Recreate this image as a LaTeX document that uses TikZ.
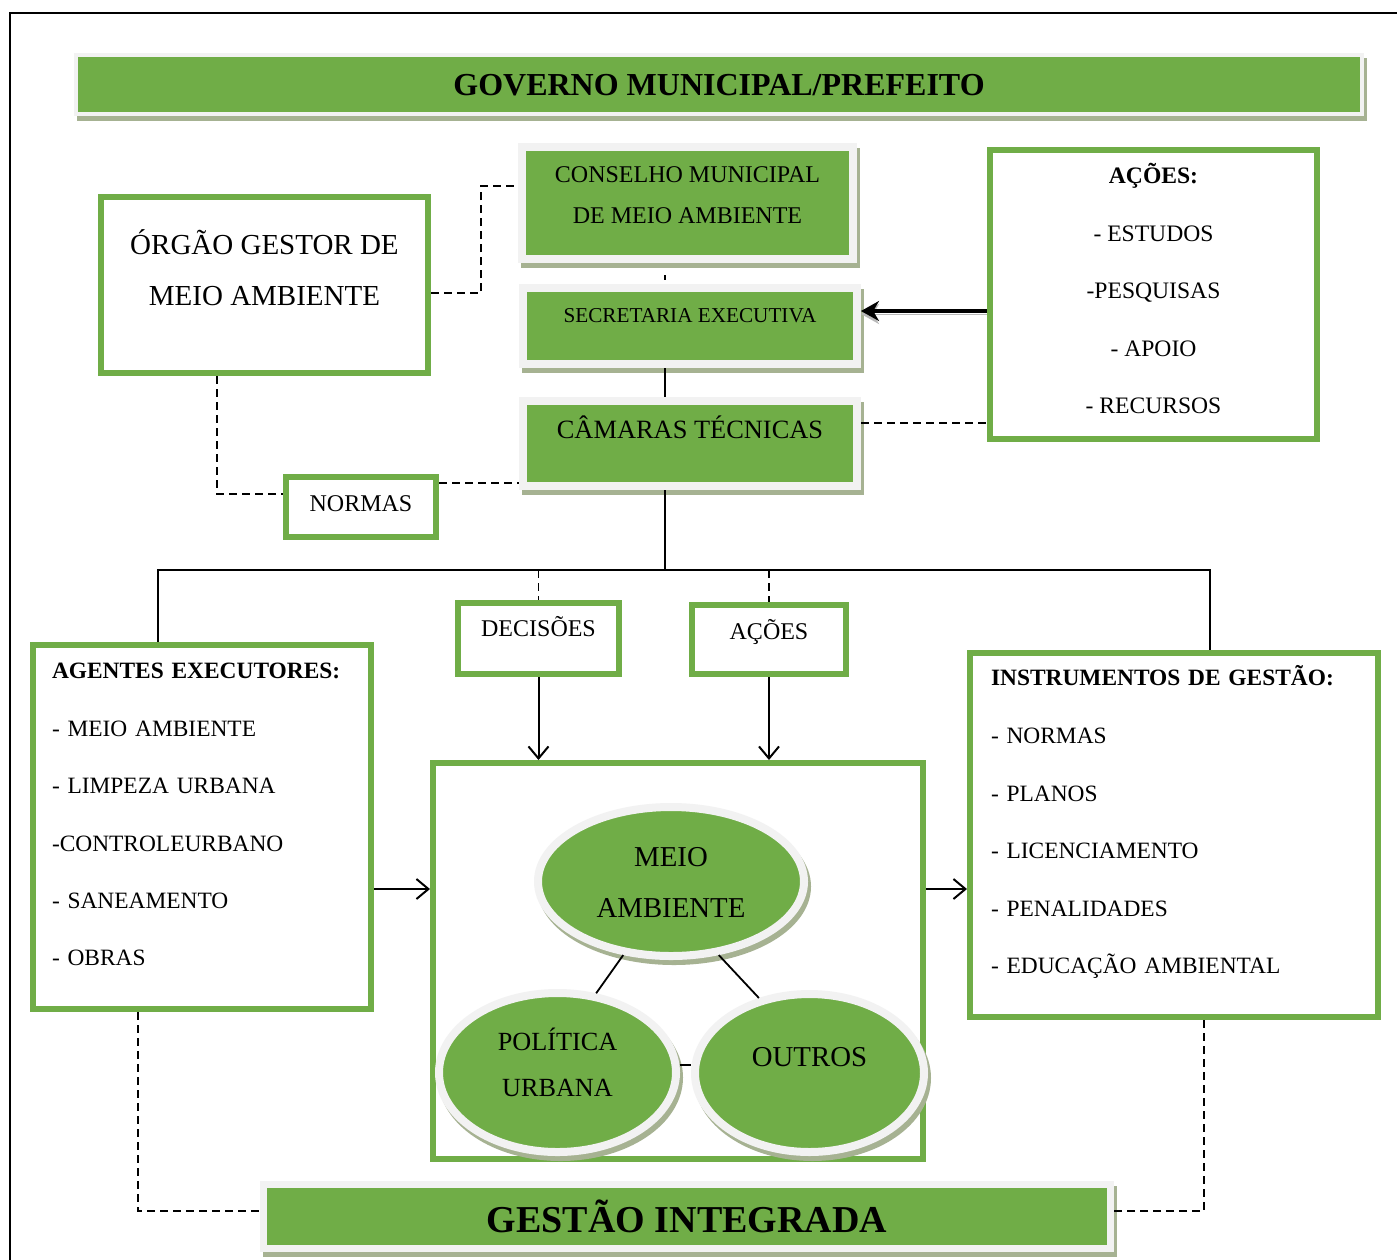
\documentclass[tikz,border=0pt]{standalone}
\usepackage{fontspec}
\setmainfont{Liberation Serif}
\usetikzlibrary{arrows.meta, shapes.geometric}

\definecolor{leafgreen}{RGB}{112,173,71}
\definecolor{framegrey}{RGB}{242,242,242}
\definecolor{shadowgrey}{RGB}{166,178,146}

\begin{document}
\begin{tikzpicture}[x=0.5pt, y=-0.5pt,
    shadowed/.style={preaction={draw=shadowgrey, fill=shadowgrey, transform canvas={xshift=1.5pt, yshift=-2.5pt}}},
    greenbox/.style={rectangle, shadowed, draw=framegrey, fill=leafgreen, line width=4pt, inner sep=0pt},
    greenoval/.style={ellipse, shadowed, draw=framegrey, fill=leafgreen, line width=4pt, inner sep=0pt},
    whitebox/.style={rectangle, draw=leafgreen, fill=white, line width=3pt, inner sep=0pt},
    link/.style={line width=0.9pt},
    dashlink/.style={line width=0.9pt, dash pattern=on 4pt off 2.5pt},
    arrow/.style={-{Straight Barb[length=6pt, width=10pt]}, line width=1pt}
]
    \useasboundingbox (0,0) rectangle (1397,1259);

    % Outer frame
    \draw[line width=1pt] (10,1270) -- (10,13) -- (1410,13);

    % Title
    \node[greenbox, line width=2pt, minimum width=643pt, minimum height=29.5pt,
          font=\fontsize{16}{19}\selectfont\bfseries, text height=11.1pt, text depth=0pt]
          (gov) at (719,84.5) {GOVERNO MUNICIPAL/PREFEITO};

    % Central column
    \node[greenbox, minimum width=165.5pt, minimum height=56pt, align=center,
          font=\fontsize{12}{20.5}\selectfont, text height=20.9pt, text depth=0pt]
          (conselho) at (687.5,203) {CONSELHO MUNICIPAL\\DE MEIO AMBIENTE};
    \node[greenbox, minimum width=167pt, minimum height=38pt,
          font=\fontsize{10.6}{13}\selectfont, text height=7pt, text depth=11pt]
          (secretaria) at (690,326) {SECRETARIA EXECUTIVA};
    \node[greenbox, minimum width=167pt, minimum height=42.5pt,
          font=\fontsize{13.2}{16}\selectfont, text height=8.7pt, text depth=13.5pt]
          (camaras) at (690,443.5) {CÂMARAS TÉCNICAS};

    % Left and right of the column
    \node[whitebox, minimum width=163.5pt, minimum height=88pt, align=center,
          font=\fontsize{14.5}{25.5}\selectfont, text height=20.6pt, text depth=0pt]
          (orgao) at (264.5,285) {ÓRGÃO GESTOR DE\\MEIO AMBIENTE};
    \node[whitebox, minimum width=75pt, minimum height=30pt,
          font=\fontsize{12}{14}\selectfont, text height=7.9pt, text depth=3pt]
          (normas) at (361,507) {NORMAS};
    \node[whitebox, minimum width=163.5pt, minimum height=144.5pt, align=center,
          font=\fontsize{11.8}{28.75}\selectfont, text height=119.3pt, text depth=0pt]
          (acoesTop) at (1153.5,294.5) {\textbf{AÇÕES:}\\- ESTUDOS\\-PESQUISAS\\- APOIO\\- RECURSOS};

    % Middle row
    \node[whitebox, minimum width=80.5pt, minimum height=35.5pt,
          font=\fontsize{12}{14}\selectfont, text height=7.9pt, text depth=9.5pt]
          (decisoes) at (538.5,638.5) {DECISÕES};
    \node[whitebox, minimum width=77pt, minimum height=34.5pt,
          font=\fontsize{12}{14}\selectfont, text height=7.9pt, text depth=7.5pt]
          (acoesMid) at (769,639.5) {AÇÕES};
    \node[whitebox, minimum width=169pt, minimum height=182pt, text width=150pt, align=left,
          font=\fontsize{11.7}{28.7}\selectfont, text height=7.8pt, text depth=156pt]
          (agentes) at (202,827) {\textbf{AGENTES EXECUTORES:}\\- MEIO AMBIENTE\\- LIMPEZA URBANA\\-CONTROLEURBANO\\- SANEAMENTO\\- OBRAS};
    \node[whitebox, minimum width=204pt, minimum height=182pt, text width=183pt, align=left,
          font=\fontsize{11.7}{28.8}\selectfont, text height=7.8pt, text depth=157pt]
          (instrumentos) at (1174,835) {\textbf{INSTRUMENTOS DE GESTÃO:}\\- NORMAS\\- PLANOS\\- LICENCIAMENTO\\- PENALIDADES\\- EDUCAÇÃO AMBIENTAL};

    % Central box with ovals
    \node[whitebox, minimum width=245pt, minimum height=198pt] (central) at (678,961) {};
    \node[greenoval, minimum width=133pt, minimum height=74.5pt, align=center,
          font=\fontsize{14.4}{25.5}\selectfont, text height=36pt, text depth=0pt]
          (meio) at (671,881.5) {MEIO\\AMBIENTE};
    \node[greenoval, minimum width=118.5pt, minimum height=79.5pt, align=center,
          font=\fontsize{13.1}{23}\selectfont, text height=24.1pt, text depth=0pt]
          (politica) at (557.5,1072.5) {POLÍTICA\\URBANA};
    \node[greenoval, minimum width=114.5pt, minimum height=79pt,
          font=\fontsize{14.4}{17}\selectfont, text height=9.5pt, text depth=16pt]
          (outros) at (809.5,1073) {OUTROS};

    % Bottom
    \node[greenbox, line width=3.5pt, minimum width=423.5pt, minimum height=32pt,
          font=\fontsize{19}{23}\selectfont\bfseries, text height=16.1pt, text depth=0pt]
          (gestao) at (687,1216.5) {GESTÃO INTEGRADA};

    % Solid links
    \coordinate (bus) at (665,570);
    \coordinate (busL) at (158,570);
    \coordinate (busR) at (1210,570);
    \draw[link, shorten <=6pt, shorten >=2pt] (conselho.south -| bus) -- (secretaria.north -| bus);
    \draw[link] (secretaria.south -| bus) -- (camaras.north -| bus);
    \draw[link] (camaras.south -| bus) -- (bus);
    \draw[link] (agentes.north -| busL) -- (busL) -- (busR) -- (instrumentos.north -| busR);
    \draw[link] (meio.-123) -- (politica.64);
    \draw[link] (meio.-57) -- (outros.124);
    \draw[link] (politica.east |- 0,1065) -- (outros.west |- 0,1065);

    % Dashed links
    \draw[dashlink] (decisoes.north |- bus) -- (decisoes.north);
    \draw[dashlink] (acoesMid.north |- bus) -- (acoesMid.north);
    \draw[dashlink] (orgao.east |- 0,293) -| (481,186) -- (conselho.west |- 0,186);
    \draw[dashlink] (orgao.south -| 217,0) |- (normas.west |- 0,494);
    \draw[dashlink] (normas.east |- 0,483) -- (camaras.west |- 0,483);
    \draw[dashlink] (camaras.east |- 0,423) -- (acoesTop.west |- 0,423);
    \draw[dashlink] (agentes.south -| 138,0) |- (gestao.west |- 0,1211);
    \draw[dashlink] (instrumentos.south -| 1204,0) |- (gestao.east |- 0,1211);

    % Arrows
    \draw[arrow] (decisoes.south) -- (decisoes.south |- central.north);
    \draw[arrow] (acoesMid.south) -- (acoesMid.south |- central.north);
    \draw[arrow] (agentes.east |- 0,889) -- (central.west |- 0,889);
    \draw[arrow] (central.east |- 0,889) -- (instrumentos.west |- 0,889);
    \draw[-{Stealth[length=9pt, width=10pt]}, line width=2.2pt,
          preaction={draw=gray!55, transform canvas={yshift=-1.5pt}}]
          (acoesTop.west |- 0,311) -- (secretaria.east |- 0,311);

\end{tikzpicture}
\end{document}
